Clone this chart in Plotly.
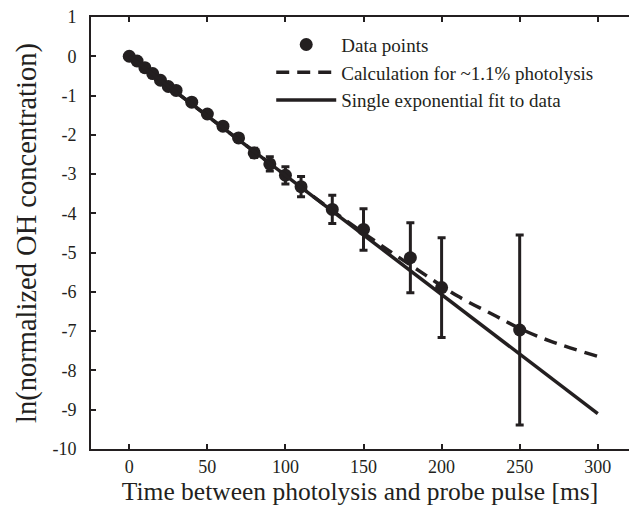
import plotly.graph_objects as go

# Data points
t_data = [0, 5, 10, 15, 20, 25, 30, 40, 50, 60, 70, 80, 90, 100, 110, 130, 150, 180, 200, 250]
v_data = [0.0, -0.12, -0.29, -0.44, -0.61, -0.77, -0.87, -1.17, -1.47, -1.78, -2.08, -2.46, -2.74, -3.03, -3.32, -3.90, -4.41, -5.13, -5.89, -6.97]
err_data = [0, 0, 0, 0, 0, 0, 0, 0.05, 0.06, 0.07, 0.08, 0.12, 0.18, 0.22, 0.26, 0.36, 0.53, 0.89, 1.27, 2.42]

# Calculation for ~1.1% photolysis (dashed)
t_calc = [0, 50, 100, 130, 150, 170, 190, 210, 235, 250, 270, 300]
v_calc = [0.0, -1.52, -3.03, -3.93, -4.50, -5.05, -5.58, -6.10, -6.62, -6.93, -7.26, -7.64]

# Single exponential fit (solid)
t_fit = [0, 300]
v_fit = [0.0, -9.1]

x_ticks = [0, 50, 100, 150, 200, 250, 300]
y_ticks = [1, 0, -1, -2, -3, -4, -5, -6, -7, -8, -9, -10]
y_ticktext = ["1", "0", "-1", "-2", "-3", "-4", "-5", "-6", "-7", "-8", "-9", "-10"]

FONT = "Liberation Serif"
INK = "#231f20"

fig = go.Figure()
fig.add_trace(go.Scatter(
    x=t_data, y=v_data, mode="markers", name="Data points",
    marker=dict(color=INK, size=13),
    error_y=dict(type="data", array=err_data, color=INK, thickness=3, width=4, visible=True),
))
fig.add_trace(go.Scatter(
    x=t_calc, y=v_calc, mode="lines", name="Calculation for ~1.1% photolysis",
    line=dict(color=INK, width=3.5, dash="13px,8px", shape="spline"),
))
fig.add_trace(go.Scatter(
    x=t_fit, y=v_fit, mode="lines", name="Single exponential fit to data",
    line=dict(color=INK, width=3.5),
))

fig.update_layout(
    width=629, height=508,
    margin=dict(l=91, r=0, t=17, b=59),
    paper_bgcolor="white", plot_bgcolor="white",
    font=dict(family=FONT, color=INK),
    showlegend=True,
    legend=dict(
        x=0.335, y=0.98, xanchor="left", yanchor="top",
        bgcolor="rgba(0,0,0,0)", font=dict(size=19, family=FONT, color=INK),
        tracegroupgap=0, itemwidth=60,
    ),
    xaxis=dict(
        range=[-24.5, 320], tickvals=x_ticks, ticks="inside", ticklen=5, tickwidth=1.5,
        tickcolor=INK, showline=True, linecolor=INK, linewidth=2, mirror="ticks",
        showgrid=False, zeroline=False, tickfont=dict(size=18, family=FONT, color=INK),
        title=dict(text="Time between photolysis and probe pulse [ms]", font=dict(size=25.5, family=FONT, color=INK), standoff=4),
    ),
    yaxis=dict(
        range=[-10, 1], tickvals=y_ticks, ticktext=y_ticktext, ticks="inside", ticklen=5, tickwidth=1.5,
        tickcolor=INK, showline=True, linecolor=INK, linewidth=2, mirror=False,
        showgrid=False, zeroline=False, tickfont=dict(size=18, family=FONT, color=INK),
        ticklabelstandoff=9,
        title=dict(text="ln(normalized OH concentration)", font=dict(size=28.5, family=FONT, color=INK), standoff=7),
    ),
)

fig.write_html("out.html")
